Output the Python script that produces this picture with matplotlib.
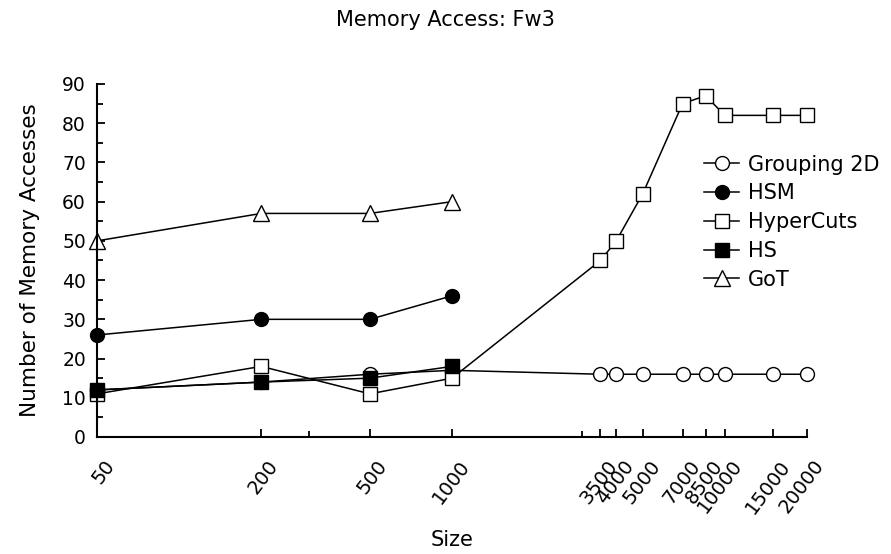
import matplotlib
matplotlib.use("Agg")
import matplotlib.pyplot as plt
from matplotlib.ticker import FixedLocator, NullFormatter, MultipleLocator
from matplotlib.transforms import ScaledTranslation

# x positions (log scale)
sizes_small = [50, 200, 500, 1000]
sizes_all = [50, 200, 500, 1000, 3500, 4000, 5000, 7000, 8500, 10000, 15000, 20000]
tick_sizes = [50, 200, 500, 1000, 3500, 4000, 5000, 7000, 8500, 10000, 15000, 20000]
minor_sizes = [300, 3000]

grouping2d = [12, 14, 16, 17, 16, 16, 16, 16, 16, 16, 16, 16]
hsm = [26, 30, 30, 36]
hypercuts = [11, 18, 11, 15, 45, 50, 62, 85, 87, 82, 82, 82]
hs = [12, 14, 15, 18]
got = [50, 57, 57, 60]

plt.rcParams['font.family'] = ['DejaVu Sans']

fig = plt.figure(figsize=(8.91, 5.54), dpi=100)
ax = fig.add_axes([0.1089, 0.2112, 0.7968, 0.6372])

common = dict(color="black", linewidth=1.1, markeredgewidth=1.0,
              markeredgecolor="black", clip_on=False)
ax.plot(sizes_all, grouping2d, marker="o", markersize=10, markerfacecolor="white", label="Grouping 2D", **common)
ax.plot(sizes_small, hsm, marker="o", markersize=10, markerfacecolor="black", label="HSM", **common)
ax.plot(sizes_all, hypercuts, marker="s", markersize=9.5, markerfacecolor="white", label="HyperCuts", **common)
ax.plot(sizes_small, hs, marker="s", markersize=9.5, markerfacecolor="black", label="HS", **common)
ax.plot(sizes_small, got, marker="^", markersize=12, markerfacecolor="white", label="GoT", **common)

ax.set_xscale("log")
ax.set_xlim(50, 20000)
ax.set_ylim(0, 90)

ax.yaxis.set_major_locator(MultipleLocator(10))
ax.yaxis.set_minor_locator(MultipleLocator(5))
ax.tick_params(axis="y", labelsize=13.5, pad=8)
ax.tick_params(axis="x", which="major", pad=14)
ax.tick_params(which="major", direction="in", length=6, width=1.3, color="black")
ax.tick_params(which="minor", direction="in", length=4, width=1.3, color="black")

ax.xaxis.set_major_locator(FixedLocator(tick_sizes))
ax.xaxis.set_minor_locator(FixedLocator(minor_sizes))
ax.xaxis.set_minor_formatter(NullFormatter())
ax.set_xticklabels([str(s) for s in tick_sizes], rotation=53, ha="right", va="top",
                   rotation_mode="anchor", fontsize=14)
# nudge the rotated labels a little to the right
shift = ScaledTranslation(6 / 100, 0, fig.dpi_scale_trans)
for lab in ax.get_xticklabels():
    lab.set_transform(lab.get_transform() + shift)

for side in ["top", "right"]:
    ax.spines[side].set_visible(False)
for side in ["left", "bottom"]:
    ax.spines[side].set_linewidth(1.5)

ax.set_ylabel("Number of Memory Accesses", fontsize=15.5, labelpad=16)
ax.set_xlabel("Size", fontsize=15, labelpad=9)
fig.suptitle("Memory Access: Fw3", fontsize=15, y=0.964, va="center")

ax.legend(loc="upper left", bbox_to_anchor=(0.855, 0.80), frameon=False, fontsize=15,
          handlelength=1.7, handletextpad=0.4, labelspacing=0.42, borderaxespad=0, borderpad=0)

fig.savefig("out.png", dpi=100)
